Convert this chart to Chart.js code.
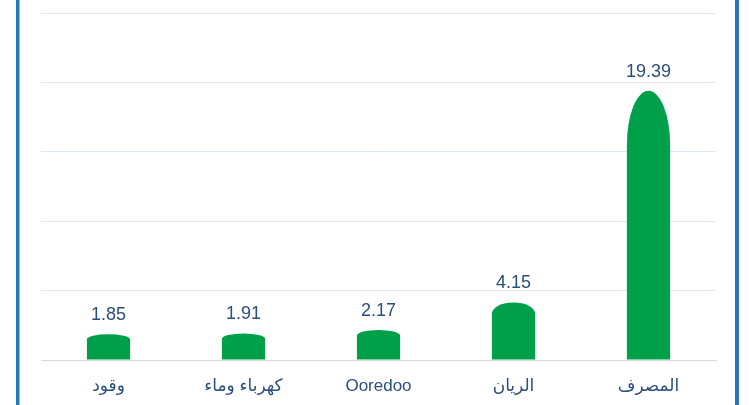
<!DOCTYPE html>
<html>
<head>
<meta charset="utf-8">
<script src="https://cdn.jsdelivr.net/npm/chart.js@4/dist/chart.umd.min.js"></script>
<style>
  html, body { margin: 0; padding: 0; background: #fff; }
  #wrap { position: relative; width: 749px; height: 405px; }
  #leftBar { position: absolute; left: 16px; top: 0; width: 3px; height: 405px; background: #1f7ab5; border-right: 1px solid #8fbde0; }
  #rightBar { position: absolute; left: 735px; top: 0; width: 4px; height: 405px; background: #2a78b8; }
</style>
</head>
<body>
<div id="wrap">
  <canvas id="chart" width="749" height="405"></canvas>
  <div id="leftBar"></div>
  <div id="rightBar"></div>
</div>
<script>
const categories = ["وقود", "كهرباء وماء", "Ooredoo", "الريان", "المصرف"];
const values = [1.85, 1.91, 2.17, 4.15, 19.39];
const valueLabels = ["1.85", "1.91", "2.17", "4.15", "19.39"];
const yTicks = [0, 5, 10, 15, 20, 25];

const barGreen = "#00a04a";
const textBlue = "#2b4f7c";

// draws bars with elliptical tops, plus the value labels
const domeBars = {
    id: "domeBars",
    afterDatasetsDraw(chart) {
        const ctx = chart.ctx;
        const meta = chart.getDatasetMeta(0);
        ctx.save();
        meta.data.forEach((bar, i) => {
            const left = bar.x - bar.width / 2;
            const right = bar.x + bar.width / 2;
            const h = bar.base - bar.y;
            const dome = h * 0.2;
            ctx.fillStyle = barGreen;
            ctx.beginPath();
            ctx.moveTo(left, bar.base);
            ctx.lineTo(left, bar.y + dome);
            ctx.ellipse(bar.x, bar.y + dome, bar.width / 2, dome, 0, Math.PI, 2 * Math.PI);
            ctx.lineTo(right, bar.base);
            ctx.closePath();
            ctx.fill();

            ctx.fillStyle = textBlue;
            ctx.font = "18px 'Liberation Sans', Arial, sans-serif";
            ctx.textAlign = "center";
            ctx.textBaseline = "middle";
            ctx.fillText(valueLabels[i], bar.x, bar.y - 19);
        });
        ctx.restore();
    }
};

const ctx = document.getElementById("chart").getContext("2d");

new Chart(ctx, {
    type: "bar",
    data: {
        labels: categories,
        datasets: [{
            data: values,
            backgroundColor: "rgba(0,0,0,0)",
            barPercentage: 0.32,
            categoryPercentage: 1
        }]
    },
    options: {
        responsive: false,
        animation: false,
        layout: { padding: { left: 41, right: 33, top: 13, bottom: 0 } },
        plugins: {
            legend: { display: false },
            tooltip: { enabled: false }
        },
        scales: {
            x: {
                grid: { display: false, drawTicks: false },
                border: { display: true, color: "#d9d9d9", width: 1 },
                ticks: {
                    color: textBlue,
                    font: { family: "'Liberation Sans', 'DejaVu Sans', sans-serif", size: 17 },
                    padding: 16,
                    maxRotation: 0
                },
                afterFit(scale) { scale.height = 45; }
            },
            y: {
                min: 0,
                max: 25,
                afterBuildTicks(scale) { scale.ticks = yTicks.map(v => ({ value: v })); },
                ticks: { display: false },
                grid: { color: "#dce6f2", lineWidth: 1, drawTicks: false },
                border: { display: false }
            }
        }
    },
    plugins: [domeBars]
});
</script>
</body>
</html>
